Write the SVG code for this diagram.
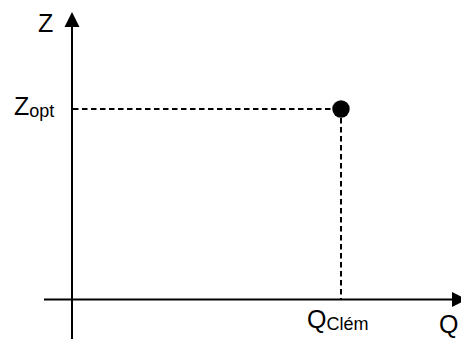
<svg xmlns="http://www.w3.org/2000/svg" width="461" height="339" viewBox="0 0 461 339">
<style>
.axis{stroke:#000;stroke-width:2;fill:none}
.dash{stroke:#000;stroke-width:2;stroke-dasharray:5.5 3.5;fill:none}
.lbl{font-family:"Liberation Sans",Arial,sans-serif;font-size:25px;fill:#000}
.sub{font-size:18px}
</style>
<defs>
<marker id="arr" viewBox="0 0 10 10" refX="0" refY="5" markerWidth="7.5" markerHeight="8" markerUnits="strokeWidth" orient="auto">
<path d="M0,0 L10,5 L0,10 Z" fill="#000"/>
</marker>
</defs>
<g id="connectors">
<line class="axis" x1="72" y1="339" x2="72" y2="27" marker-end="url(#arr)"/>
<line class="axis" x1="44" y1="299.5" x2="452" y2="299.5" marker-end="url(#arr)"/>
<line class="dash" x1="73" y1="109" x2="333" y2="109"/>
<line class="dash" x1="341" y1="118" x2="341" y2="299"/>
</g>
<g id="point">
<circle cx="341" cy="109" r="8.7" fill="#000"/>
</g>
<g id="label-z">
<text class="lbl" x="38" y="32">Z</text>
</g>
<g id="label-zopt">
<text class="lbl" x="14" y="115">Z<tspan class="sub" dy="2">opt</tspan></text>
</g>
<g id="label-qclem">
<text class="lbl" x="307" y="328">Q<tspan class="sub" dy="2">Clém</tspan></text>
</g>
<g id="label-q">
<text class="lbl" x="439" y="333">Q</text>
</g>
</svg>
